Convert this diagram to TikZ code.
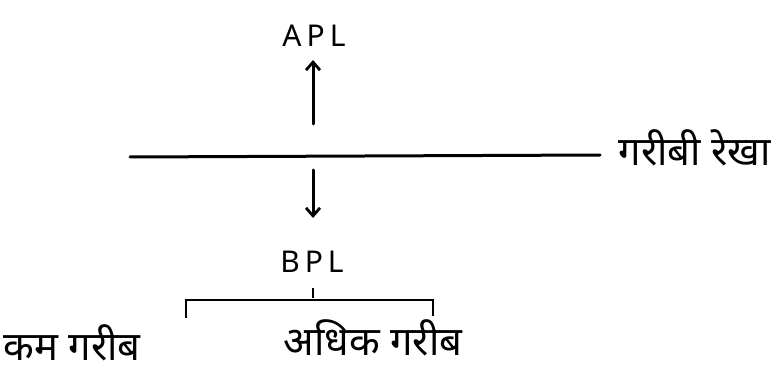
\documentclass[tikz,border=0pt]{standalone}
\usepackage{fontspec}
\setmainfont{Noto Sans}
\newfontfamily\devfont[Script=Devanagari]{Noto Sans}
\usetikzlibrary{arrows.meta}
\begin{document}
\begin{tikzpicture}[x=1pt,y=-1pt,
  ink/.style={line width=3pt,line cap=round},
  arr/.style={ink,-{Straight Barb[length=8pt,width=14pt,line width=2.8pt]}},
  lat/.style={font=\fontsize{30}{32}\selectfont},
  dev/.style={font=\devfont\fontsize{40}{44}\selectfont}]
\useasboundingbox (0,0) rectangle (782,377);
\node[lat] (apl) at (314,36) {A\,P\,L};
\coordinate (upstart) at (313,124);
\draw[arr] (upstart) -- (313,60);
\coordinate (lineL) at (130,157);
\coordinate (lineR) at (600,155);
\draw[ink] (lineL) -- (lineR);
\node[dev,anchor=west] (rekha) at (615,148) {गरीबी रेखा};
\coordinate (downstart) at (313,170);
\draw[arr] (downstart) -- (313,218);
\node[lat] (bpl) at (312,262) {B\,P\,L};
\coordinate (tickT) at (313,288);
\coordinate (tickB) at (313,298);
\draw[line width=2pt] (tickT) -- (tickB);
\coordinate (bl) at (186,318);
\coordinate (br) at (433,316);
\draw[line width=2.6pt] (bl) -- (186,300) -- (433,300) -- (br);
\node[dev,anchor=west] (kam) at (0,343) {कम गरीब};
\node[dev,anchor=west] (adhik) at (280,338) {अधिक गरीब};
\end{tikzpicture}
\end{document}
